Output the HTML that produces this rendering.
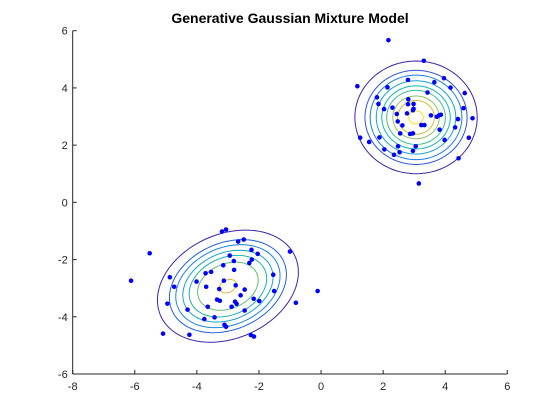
<!DOCTYPE html>
<html><head><meta charset="utf-8"><style>
html,body{margin:0;padding:0;background:#fff;}
svg{display:block;font-family:"Liberation Sans","DejaVu Sans",sans-serif;}
</style></head><body>
<svg id="chart" width="560" height="420" viewBox="0 0 560 420">
<rect width="560" height="420" fill="#fff"/>
<text x="290" y="23" text-anchor="middle" font-weight="bold" font-size="14" fill="#000">Generative Gaussian Mixture Model</text>
<g id="contours"></g>
<g id="points"></g>
<g id="axes"></g>
</svg>
<script>
const xTicks = [-8,-6,-4,-2,0,2,4,6];
const yTicks = [-6,-4,-2,0,2,4,6];
const cluster1X = [2.17,3.31,1.17,3.96,4.17,3.65,2.80,2.14,3.43,4.63,1.80,1.85,2.03,2.81,2.98,2.80,2.30,2.96,2.98,4.59,2.44,2.77,3.54,3.73,3.80,3.86,4.88,4.41,2.47,2.62,3.23,3.33,4.32,3.82,2.55,2.87,2.96,1.26,1.88,1.55,3.98,4.76,2.48,3.05,2.04,2.53,2.96,2.35,4.43,3.15];
const cluster1Y = [5.67,4.95,4.06,4.34,4.01,4.20,4.28,4.02,3.84,3.82,3.67,3.44,3.26,3.60,3.44,3.43,3.31,3.22,3.27,3.29,3.09,3.11,3.04,2.99,3.04,3.06,2.94,2.91,2.83,2.69,2.70,2.70,2.62,2.54,2.41,2.39,2.41,2.26,2.27,2.11,2.18,2.26,1.96,1.96,1.85,1.75,1.80,1.66,1.54,0.66];
const cluster2X = [-3.06,-3.19,-5.52,-2.49,-2.67,-1.00,-2.24,-2.04,-2.94,-2.23,-2.31,-2.81,-3.15,-3.54,-3.72,-2.80,-1.54,-4.87,-4.01,-6.12,-3.13,-2.75,-4.73,-3.70,-3.28,-2.46,-1.51,-0.11,-2.59,-3.35,-3.26,-2.17,-1.99,-2.77,-2.72,-4.95,-0.81,-3.65,-2.88,-2.46,-4.30,-3.43,-3.76,-3.11,-3.06,-5.09,-4.24,-2.26,-2.16];
const cluster2Y = [-0.95,-1.02,-1.78,-1.30,-1.37,-1.72,-1.66,-1.80,-1.86,-2.00,-2.12,-2.05,-2.20,-2.43,-2.48,-2.36,-2.53,-2.62,-2.77,-2.74,-2.74,-2.90,-2.95,-2.95,-3.03,-3.05,-3.10,-3.10,-3.25,-3.40,-3.44,-3.37,-3.45,-3.47,-3.55,-3.54,-3.51,-3.65,-3.65,-3.78,-3.75,-4.02,-4.08,-4.28,-4.35,-4.59,-4.63,-4.64,-4.69];
const comp1Mean = [3.06, 2.97];
const comp1Extent = [1.97, 1.97, 0.0];
const comp1Levels = [1, 0.835, 0.75, 0.65, 0.56, 0.48, 0.38, 0.30, 0.117];
const comp2Mean = [-3.0, -2.93];
const comp2Extent = [2.27, 1.96, 0.25];
const comp2Levels = [1, 0.83, 0.74, 0.64, 0.55, 0.43, 0.12];
const parula = ['#3e26a8','#2f55d8','#1c7ee3','#1a9fd6','#12b6b8','#3cc08d','#8ec35c','#d4b937','#f7d91c'];
const parula2 = ['#3e26a8','#2060de','#1c82e0','#16a2d0','#1ab3ae','#5fbf72','#e3b53a'];

const X0=72.7, X1=507.3, Y0=374, Y1=30.7;
const sx = v => X0 + (v+8)/14*(X1-X0);
const sy = v => Y0 - (v+6)/12*(Y0-Y1);
const NS='http://www.w3.org/2000/svg';
function mk(tag, attrs, parent){const e=document.createElementNS(NS,tag);for(const k in attrs)e.setAttribute(k,attrs[k]);parent.appendChild(e);return e;}

const cg=document.getElementById('contours');
function drawComp(mean, ext, levels, colors, id){
  const rho=ext[2];
  levels.forEach((f,i)=>{
    let d='';
    for(let k=0;k<=120;k++){
      const t=k/120*2*Math.PI;
      const x=mean[0]+f*ext[0]*Math.cos(t);
      const y=mean[1]+f*ext[1]*(rho*Math.cos(t)+Math.sqrt(1-rho*rho)*Math.sin(t));
      d+=(k?'L':'M')+sx(x).toFixed(2)+' '+sy(y).toFixed(2);
    }
    const p=mk('path',{d:d+'Z',fill:'none',stroke:colors[i],'stroke-width':1},cg);
    
    
  });
}
drawComp(comp1Mean,comp1Extent,comp1Levels,parula,'component-1');
drawComp(comp2Mean,comp2Extent,comp2Levels,parula2,'component-2');

const pg=document.getElementById('points');
function drawPts(xs,ys,id){
  xs.forEach((x,i)=>{
    const c=mk('circle',{cx:sx(x),cy:sy(ys[i]),r:2.3,fill:'#0000ff'},pg);
    
    
  });
}
drawPts(cluster1X,cluster1Y,'cluster-1');
drawPts(cluster2X,cluster2Y,'cluster-2');

const ag=document.getElementById('axes');
const xa=mk('line',{x1:X0,y1:Y0,x2:X1,y2:Y0,stroke:'#262626','stroke-width':1},ag);


const ya=mk('line',{x1:X0,y1:Y0,x2:X0,y2:Y1,stroke:'#262626','stroke-width':1},ag);


xTicks.forEach(v=>{
  const x=sx(v);
  mk('line',{x1:x,y1:Y0,x2:x,y2:Y0-4,stroke:'#262626'},ag);
  const t=mk('text',{x:x,y:Y0+16,'text-anchor':'middle','font-size':11,fill:'#262626'},ag);
  t.textContent=v;
  
  
});
yTicks.forEach(v=>{
  const y=sy(v);
  mk('line',{x1:X0,y1:y,x2:X0+4,y2:y,stroke:'#262626'},ag);
  const t=mk('text',{x:X0-5,y:y+4,'text-anchor':'end','font-size':11,fill:'#262626'},ag);
  t.textContent=v;
  
  
});
</script>
</body></html>
